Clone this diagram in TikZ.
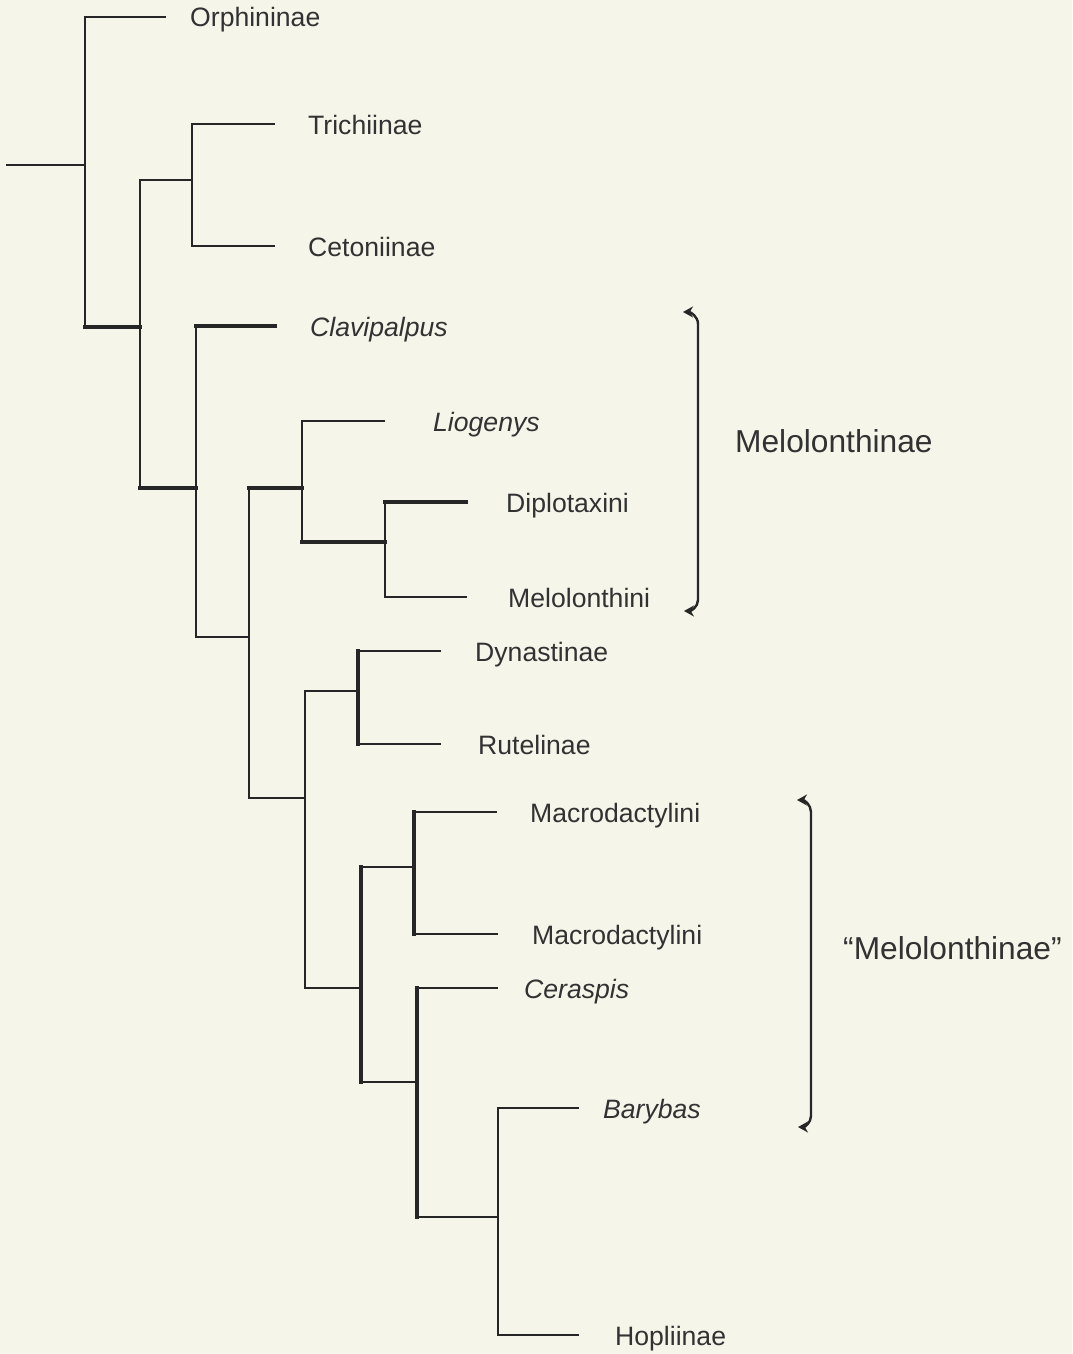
\documentclass[tikz,border=0pt]{standalone}
\usepackage{fontspec}
\setmainfont{Liberation Sans}
\usetikzlibrary{arrows.meta}
\definecolor{bgc}{RGB}{245,245,234}
\definecolor{ink}{RGB}{38,38,38}
\definecolor{txt}{RGB}{50,50,50}
\begin{document}
\begin{tikzpicture}[x=1pt,y=-1pt,
  br/.style={draw=ink,line width=1.7pt,line cap=rect},
  thk/.style={line width=3.2pt},
  lab/.style={anchor=base west,inner sep=0pt,text=txt,font=\fontsize{26.6}{30}\selectfont},
  big/.style={anchor=base west,inner sep=0pt,text=txt,font=\fontsize{31.7}{36}\selectfont},
  brk/.style={draw=ink,line width=2.4pt,{Stealth[length=10pt,width=11pt]}-{Stealth[length=10pt,width=11pt]}}]
\fill[bgc] (0,0) rectangle (1072,1354);
\useasboundingbox (0,0) rectangle (1072,1354);
% internal nodes
\coordinate (root) at (7,165);
\coordinate (A) at (85,165);
\coordinate (B) at (140,327);
\coordinate (C) at (192,180);
\coordinate (D) at (196,488);
\coordinate (E) at (249,637);
\coordinate (F) at (302,488);
\coordinate (G) at (385,542);
\coordinate (H) at (305,798);
\coordinate (I) at (358,691);
\coordinate (J) at (361,988);
\coordinate (K) at (414,867);
\coordinate (L) at (417,1082);
\coordinate (M) at (498,1217);
% leaf tips
\coordinate (orph) at (165,17);
\coordinate (tric) at (274,124);
\coordinate (ceto) at (274,246);
\coordinate (clav) at (275,326);
\coordinate (liog) at (384,421);
\coordinate (dipl) at (466,502);
\coordinate (melo) at (466,597);
\coordinate (dyna) at (440,651);
\coordinate (rute) at (440,744);
\coordinate (mac1) at (496,812);
\coordinate (mac2) at (497,934);
\coordinate (cera) at (497,988);
\coordinate (bary) at (578,1108);
\coordinate (hopl) at (578,1335);
% root
\draw[br] (root) -- (A);
% A
\draw[br] (A |- orph) -- (orph);
\draw[br] (A |- orph) -- (A |- B);
\draw[br,thk] (A |- B) -- (B);
% B
\draw[br] (B |- C) -- (C);
\draw[br] (B |- C) -- (B |- D);
\draw[br,thk] (B |- D) -- (D);
% C
\draw[br] (C |- tric) -- (tric);
\draw[br] (C |- tric) -- (C |- ceto);
\draw[br] (C |- ceto) -- (ceto);
% D
\draw[br,thk] (D |- clav) -- (clav);
\draw[br] (D |- clav) -- (D |- E);
\draw[br] (D |- E) -- (E);
% E
\draw[br,thk] (E |- F) -- (F);
\draw[br] (E |- F) -- (E |- H);
\draw[br] (E |- H) -- (H);
% F
\draw[br] (F |- liog) -- (liog);
\draw[br] (F |- liog) -- (F |- G);
\draw[br,thk] (F |- G) -- (G);
% G
\draw[br,thk] (G |- dipl) -- (dipl);
\draw[br] (G |- dipl) -- (G |- melo);
\draw[br] (G |- melo) -- (melo);
% H
\draw[br] (H |- I) -- (I);
\draw[br] (H |- I) -- (H |- J);
\draw[br] (H |- J) -- (J);
% I
\draw[br] (I |- dyna) -- (dyna);
\draw[br,thk] (I |- dyna) -- (I |- rute);
\draw[br] (I |- rute) -- (rute);
% J
\draw[br] (J |- K) -- (K);
\draw[br,thk] (J |- K) -- (J |- L);
\draw[br] (J |- L) -- (L);
% K
\draw[br] (K |- mac1) -- (mac1);
\draw[br,thk] (K |- mac1) -- (K |- mac2);
\draw[br] (K |- mac2) -- (mac2);
% L
\draw[br] (L |- cera) -- (cera);
\draw[br,thk] (L |- cera) -- (L |- M);
\draw[br] (L |- M) -- (M);
% M
\draw[br] (M |- bary) -- (bary);
\draw[br] (M |- bary) -- (M |- hopl);
\draw[br] (M |- hopl) -- (hopl);
% labels
\node[lab] (torph) at (190,27) {Orphininae};
\node[lab] (ttric) at (308,134) {Trichiinae};
\node[lab] (tceto) at (308,256) {Cetoniinae};
\node[lab] (tclav) at (310,336) {\itshape Clavipalpus};
\node[lab] (tliog) at (433,431) {\itshape Liogenys};
\node[lab] (tdipl) at (506,512) {Diplotaxini};
\node[lab] (tmelo) at (508,607) {Melolonthini};
\node[lab] (tdyna) at (475,661) {Dynastinae};
\node[lab] (trute) at (478,754) {Rutelinae};
\node[lab] (tmac1) at (530,822) {Macrodactylini};
\node[lab] (tmac2) at (532,944) {Macrodactylini};
\node[lab] (tcera) at (524,998) {\itshape Ceraspis};
\node[lab] (tbary) at (603,1118) {\itshape Barybas};
\node[lab] (thopl) at (615,1345) {Hopliinae};
% brackets
\coordinate (b1t) at (683,312);
\coordinate (b1a) at (698,324);
\coordinate (b1b) at (698,600);
\coordinate (b1e) at (684,611);
\draw[brk] (b1t) to[out=0,in=90] (b1a) -- (b1b) to[out=-90,in=0] (b1e);
\node[big] (g1) at (735,452) {Melolonthinae};
\coordinate (b2t) at (797,800);
\coordinate (b2a) at (811,812);
\coordinate (b2b) at (811,1116);
\coordinate (b2e) at (798,1127);
\draw[brk] (b2t) to[out=0,in=90] (b2a) -- (b2b) to[out=-90,in=0] (b2e);
\node[big] (g2) at (843,959) {“Melolonthinae”};
\end{tikzpicture}
\end{document}
